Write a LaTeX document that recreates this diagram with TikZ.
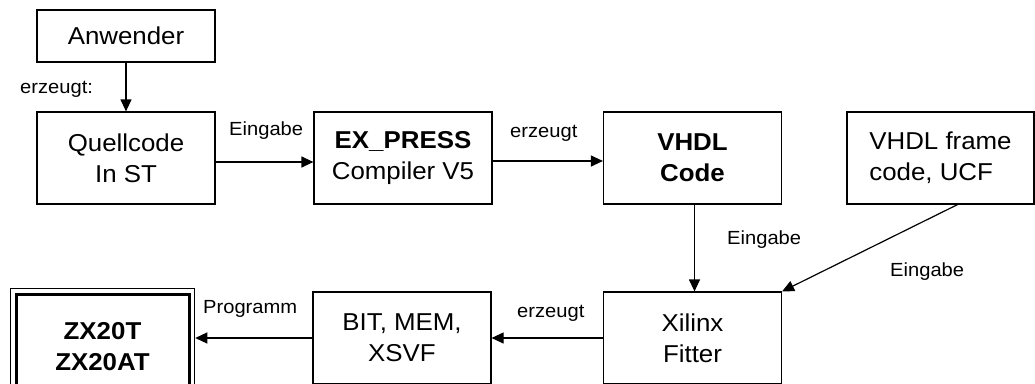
\documentclass[tikz,border=0pt]{standalone}
\usepackage{fontspec}
\setmainfont{Liberation Sans}[FakeStretch=1.06]
\usetikzlibrary{arrows.meta}
\begin{document}
\begin{tikzpicture}[x=1pt,y=-1pt,
  box/.style={draw, line width=1.2pt, minimum width=178pt, minimum height=92pt, inner sep=0pt, align=center, font=\fontsize{24.4}{31}\selectfont},
  lbl/.style={anchor=base west, inner sep=0pt, font=\fontsize{19}{23}\selectfont},
  arr/.style={line width=1.2pt, -{Triangle[length=12pt,width=11pt]}}]
\useasboundingbox (0,0) rectangle (1035,383);
\clip (0,0) rectangle (1035,383);
\node[box, minimum height=52pt] (anw) at (126,36) {Anwender};
\node[box] (q) at (126,158) {Quellcode\\In ST};
\node[box] (ex) at (403,158) {\textbf{EX\_PRESS}\\Compiler V5};
\node[box] (vh) at (692.5,158) {\textbf{VHDL}\\\textbf{Code}};
\node[box, minimum width=187pt, align=left] (fr) at (940.5,158) {VHDL frame\\code, UCF};
\node[box] (xf) at (692.5,338) {Xilinx\\Fitter};
\node[box] (bit) at (402,338) {BIT, MEM,\\XSVF};
\node[box, line width=3pt, minimum width=173pt, minimum height=106pt] (zx) at (102.5,347) {\textbf{ZX20T}\\\textbf{ZX20AT}};
\node[draw, line width=1.5pt, minimum width=184pt, minimum height=117pt, inner sep=0pt] (zxo) at (102.5,347) {};
\draw[arr] (anw) -- (q);
\draw[arr] ([yshift=-4pt]q.east) -- ([yshift=-4pt]ex.west);
\draw[arr] ([yshift=-3pt]ex.east) -- ([yshift=-3pt]vh.west);
\draw[arr] ([xshift=2pt]vh.south) -- ([xshift=2pt]xf.north);
\draw[arr] ([xshift=17pt]fr.south) -- (xf.north east);
\draw[arr] (xf.west) -- (bit.east);
\draw[arr] (bit.west) -- (bit.west -| zxo.east);
\node[lbl] (l1) at (20,93) {erzeugt:};
\node[lbl] (l2) at (229,135.7) {Eingabe};
\node[lbl] (l3) at (510,137.5) {erzeugt};
\node[lbl] (l4) at (727,244) {Eingabe};
\node[lbl] (l5) at (890,276) {Eingabe};
\node[lbl] (l6) at (203,313) {Programm};
\node[lbl] (l7) at (517,317) {erzeugt};
\end{tikzpicture}
\end{document}
